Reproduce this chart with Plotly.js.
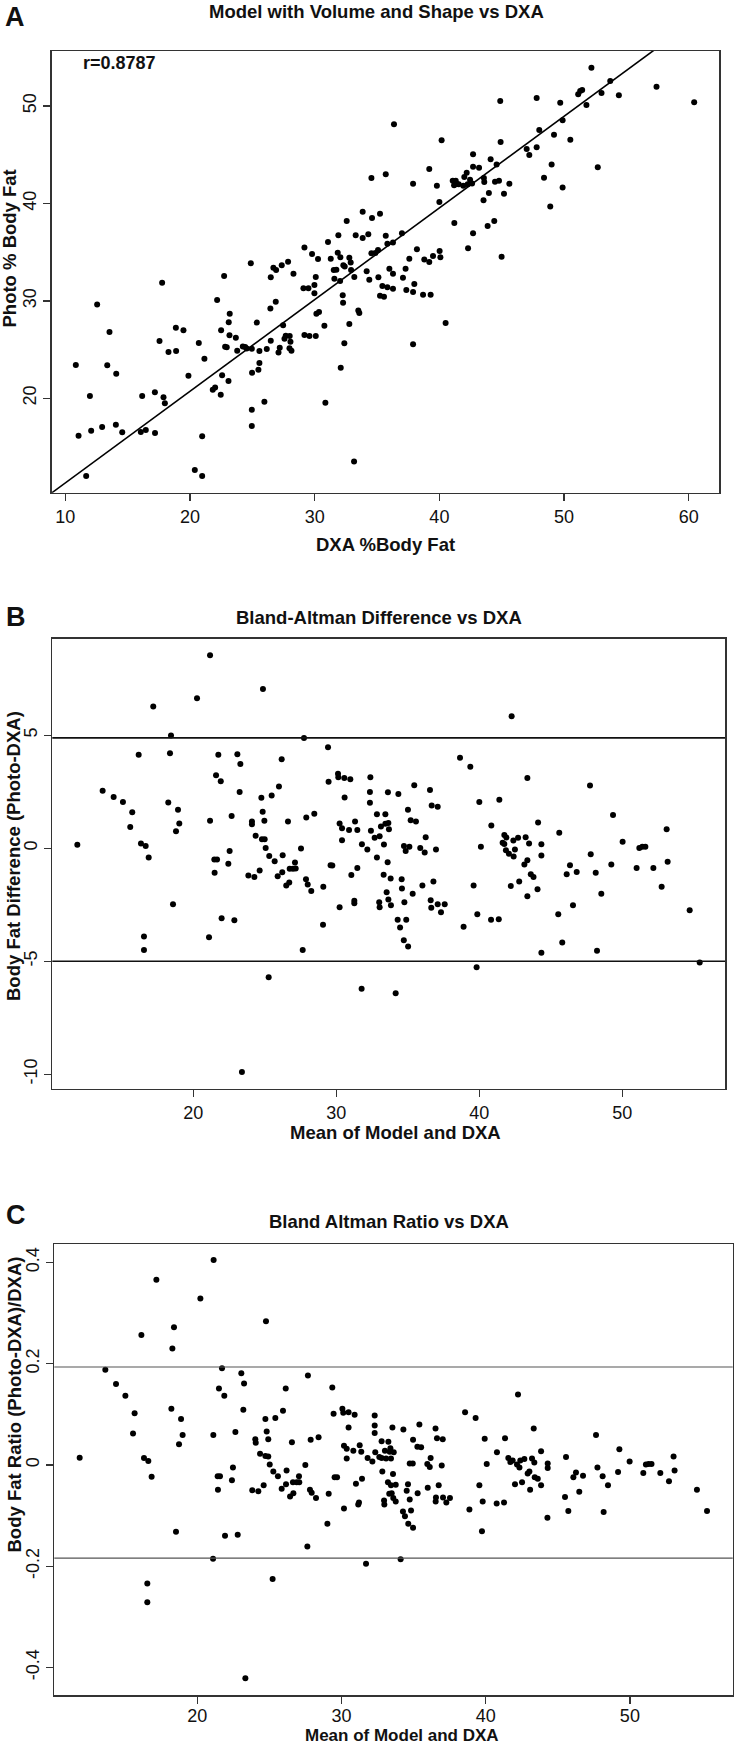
<!DOCTYPE html>
<html>
<head>
<meta charset="utf-8">
<script src="https://cdn.plot.ly/plotly-3.0.1.min.js"></script>
<style>
  html, body { margin: 0; padding: 0; background: #fff; }
  #chart { width: 734px; height: 1746px; }
</style>
</head>
<body>
<div id="chart"></div>
<script>
// ---------------- Panel A: Photo vs DXA ----------------
const dxaA = [10.85,11.07,11.68,11.98,12.08,12.56,12.96,13.37,13.55,14.06,14.09,14.57,16.06,16.17,16.46,17.20,17.19,17.77,17.88,17.99,
  17.56,18.28,18.89,18.87,19.48,19.88,20.39,20.98,20.98,20.71,21.16,21.83,22.02,22.47,22.58,23.09,22.18,22.74,22.82,22.95,
  22.50,23.17,23.11,23.19,23.68,23.79,24.24,24.43,24.55,24.96,24.88,24.98,24.96,24.96,25.36,25.57,25.57,25.49,25.97,26.16,
  26.48,26.48,26.45,26.88,26.69,26.91,27.36,27.87,28.30,27.10,27.20,27.47,27.58,27.68,28.00,27.98,28.14,28.06,
  29.18,29.10,29.50,29.98,29.79,30.27,30.09,29.98,29.18,29.58,30.09,30.14,30.35,30.78,30.86,31.07,31.29,31.90,31.85,31.58,
  31.53,31.74,32.06,32.04,32.30,32.41,32.25,32.28,32.57,32.38,32.09,32.78,32.89,32.92,33.18,32.78,33.16,33.29,33.85,33.85,
  34.30,34.55,34.60,33.50,33.58,34.17,34.38,34.55,34.87,35.08,35.11,
  36.36,35.70,35.24,35.70,35.83,36.28,37.00,35.99,36.28,37.08,37.29,37.59,38.20,38.79,39.19,39.49,40.02,40.08,35.43,35.83,
  36.28,35.24,35.56,37.35,37.89,37.99,38.69,39.30,40.50,37.89,40.18,39.19,37.89,39.80,40.00,41.20,41.07,41.31,41.42,41.18,
  41.55,42.00,42.19,41.92,42.27,42.46,42.62,42.70,42.70,43.18,42.70,42.30,43.57,43.60,43.54,43.87,43.97,44.40,44.11,44.59,
  44.46,44.78,44.88,44.91,44.99,45.18,45.61,47.00,47.21,47.80,47.80,48.01,48.39,48.89,49.00,49.19,49.69,49.88,49.88,50.50,
  51.13,51.29,51.45,51.79,52.19,52.70,53.00,53.70,54.39,57.41,60.43];
const photoA = [23.42,16.16,12.03,20.24,16.68,29.64,17.05,23.38,26.80,17.29,22.53,16.51,16.54,20.24,16.74,16.45,20.61,31.87,20.10,19.48,
  25.88,24.75,24.85,27.25,26.98,22.32,12.64,12.03,16.10,25.68,24.07,20.89,21.10,20.37,22.36,21.78,30.09,32.55,25.30,25.23,
  26.98,26.46,27.80,28.69,26.22,24.89,25.33,25.26,25.10,25.09,33.85,22.63,18.83,17.16,27.77,24.85,23.62,22.94,19.65,25.06,
  25.92,32.42,29.23,29.92,33.41,33.17,33.65,34.02,32.79,24.70,25.20,27.49,26.12,26.43,26.40,25.13,24.89,25.81,
  35.49,31.29,31.29,31.63,34.81,34.30,32.45,30.78,26.50,26.40,26.40,28.69,28.86,27.45,19.55,36.04,34.33,36.73,34.95,32.28,
  33.17,33.20,34.47,32.04,33.65,33.54,30.57,29.82,38.20,25.64,23.14,34.43,33.95,33.17,32.45,27.63,13.50,36.73,36.45,39.16,
  36.83,42.61,38.51,29.02,28.75,33.04,32.18,34.88,34.91,35.22,32.42,
  48.12,42.99,38.95,36.69,35.87,36.00,36.93,33.30,32.79,32.38,33.30,34.33,35.29,34.26,33.99,34.61,35.12,34.47,31.53,31.39,
  31.25,30.53,30.43,31.12,30.91,31.73,30.64,30.64,27.73,25.54,46.48,43.53,42.03,41.82,40.15,37.99,42.34,42.34,42.00,41.86,
  41.96,42.71,43.16,41.82,41.96,42.44,42.06,45.04,43.77,43.67,36.93,35.39,42.61,42.20,40.32,37.68,41.07,38.20,44.53,44.01,
  42.23,42.34,50.51,46.31,34.54,41.00,42.03,45.59,44.97,45.76,50.82,47.54,42.64,39.70,44.01,47.06,50.34,48.53,41.65,46.54,
  51.20,51.54,51.64,50.10,53.93,43.71,51.33,52.57,51.10,51.98,50.38];
const fitIntercept = 1.90;   // fitted line in panel A
const fitSlope = 0.941;
const rLabel = "r=0.8787";

// ---------------- Panel B: Bland-Altman difference ----------------
const meanB = [11.89,13.66,14.43,15.08,15.73,15.59,16.18,16.34,16.67,16.88,16.55,16.55,17.20,18.44,18.37,18.25,18.93,19.02,18.79,18.58,
  20.26,21.17,21.59,21.92,21.75,21.17,21.47,21.66,21.49,21.10,21.98,22.54,22.45,22.68,23.08,23.29,23.24,22.87,23.40,23.85,
  24.27,24.10,24.10,24.36,24.64,24.80,24.99,24.85,24.97,24.76,25.06,24.87,25.27,25.31,25.48,25.69,25.99,26.18,25.90,26.25,
  26.22,26.50,26.71,26.62,26.74,26.97,27.16,27.11,27.53,27.74,27.65,27.88,28.00,28.25,27.90,28.46,29.09,29.07,29.42,29.46,
  29.60,29.72,30.12,30.14,30.56,30.98,30.58,30.23,30.40,30.40,30.89,31.31,31.47,31.05,31.47,30.23,31.26,31.26,31.77,31.79,
  32.17,32.38,32.35,32.35,32.84,33.43,32.42,32.68,33.03,33.12,32.84,33.33,33.43,33.64,33.61,33.59,33.31,33.52,33.64,33.00,
  33.03,
  34.34,35.45,36.55,36.67,37.09,35.01,35.20,35.57,33.68,36.25,34.73,35.11,34.85,35.87,36.18,36.97,33.80,34.57,33.82,34.59,
  34.76,35.34,36.02,36.79,36.60,36.64,37.09,37.58,37.32,34.29,34.89,34.46,34.72,35.02,34.15,38.65,39.37,38.90,40.00,40.11,
  39.60,39.86,39.81,40.84,41.40,40.82,41.36,41.75,41.89,41.63,41.75,41.86,42.07,42.40,42.38,42.71,42.49,42.26,43.36,43.24,
  43.48,42.20,42.79,43.15,43.36,43.60,43.79,44.11,44.07,43.36,44.34,44.34,44.34,45.59,46.11,46.34,46.81,45.52,45.80,46.55,
  47.74,47.79,48.14,48.23,48.53,49.35,49.23,50.02,51.00,51.19,51.40,51.61,52.17,52.75,53.10,53.17,54.71,55.41];
const diffB = [0.15,2.54,2.27,2.04,1.59,0.94,4.13,0.21,0.10,-0.41,-3.91,-4.50,6.27,4.99,4.20,2.02,1.70,1.09,0.75,-2.48,
  6.64,8.54,3.23,2.96,4.13,1.22,-0.50,-0.50,-1.09,-3.94,-3.10,-0.12,-0.69,1.43,4.16,3.73,2.49,-3.19,-9.90,-1.21,
  -1.27,1.18,1.06,0.55,-0.99,0.40,0.40,1.61,1.22,2.23,0.01,7.04,-5.71,-0.34,2.33,-0.58,2.73,3.94,-1.24,-0.31,
  -1.06,-1.65,-1.52,1.18,-0.91,-0.91,-0.90,-0.63,-0.01,4.88,-4.50,-1.37,-1.61,-1.89,1.36,1.52,-1.70,-3.39,4.47,2.94,
  -0.75,-0.77,3.29,3.14,3.11,3.05,2.24,1.09,0.88,0.35,0.81,1.18,0.81,-1.19,-0.87,-2.61,-2.32,-2.43,-6.22,0.18,
  -0.06,3.14,2.49,2.01,1.50,1.50,0.77,0.46,0.53,0.96,-0.41,0.16,1.08,1.12,2.48,-0.62,-1.17,-1.95,-2.27,-2.39,
  -2.61,
  2.40,2.79,2.58,1.89,1.83,1.70,1.24,1.18,0.84,0.49,0.10,0.07,-0.12,0.01,-0.19,-0.06,-1.34,-1.37,-2.52,-1.78,
  -2.39,-2.02,-1.65,-1.47,-2.30,-2.63,-2.48,-2.48,-2.83,-3.17,-3.17,-3.51,-4.07,-4.35,-6.42,4.00,3.61,-3.47,2.05,0.06,
  -1.65,-2.92,-5.27,1.00,2.14,-3.16,-3.14,0.58,0.47,0.24,0.19,-0.09,-0.25,-0.37,0.34,0.46,-0.06,5.84,3.11,0.49,
  0.21,-1.67,-1.47,-0.72,-0.53,-1.15,-1.27,1.14,-1.81,-2.12,0.18,-0.32,-4.63,0.68,-1.15,-0.75,-1.05,-2.92,-4.17,-2.52,
  2.77,-0.27,-1.09,-4.54,-2.01,1.47,-0.72,0.29,-0.87,0.01,0.07,0.06,-0.87,-1.70,0.84,-0.60,-2.74,-5.06];
const limitsB = [4.88, -5.00];

// ---------------- Panel C: Bland-Altman ratio ----------------
const meanC = [11.84,13.62,14.36,15.01,15.65,15.54,16.12,16.30,16.60,16.83,16.53,16.53,17.16,18.38,18.27,18.20,18.87,18.98,18.73,18.52,
  20.21,21.13,21.71,21.50,21.87,21.11,21.41,21.57,21.43,21.92,21.09,23.05,23.24,23.19,22.64,22.47,22.40,22.80,23.33,23.81,
  24.23,24.02,24.05,24.35,24.60,24.72,24.92,24.72,24.81,24.92,24.76,25.22,25.02,25.27,25.41,25.59,25.94,26.13,25.85,26.19,
  26.15,26.43,26.66,26.56,26.63,26.89,27.07,27.05,27.49,27.67,27.63,27.81,27.93,28.23,27.86,28.41,29.11,29.02,29.36,29.45,
  29.52,29.69,30.06,30.12,30.49,30.91,30.17,30.36,30.49,30.36,30.82,30.17,31.00,31.42,31.21,31.16,31.70,31.26,31.37,31.81,
  32.14,32.30,32.30,32.30,32.34,32.78,32.62,32.78,32.83,33.01,33.25,33.22,32.95,32.97,33.31,
  33.39,33.34,33.62,33.09,33.43,33.53,34.29,33.57,33.43,33.76,33.48,33.59,33.76,34.61,34.52,34.73,34.26,34.40,34.63,34.96,
  34.10,34.82,34.96,35.40,35.26,35.52,34.73,34.94,35.28,35.98,36.18,35.95,36.12,36.52,36.62,37.02,36.74,36.55,36.53,36.95,
  37.04,37.27,37.52,38.57,39.30,39.93,40.07,39.56,39.79,39.74,38.87,40.78,41.34,40.76,41.27,42.24,41.57,41.71,41.87,42.17,
  42.34,42.40,42.68,42.03,42.52,42.91,43.03,43.08,43.33,43.21,43.37,43.40,43.61,43.84,43.84,44.30,44.30,44.28,45.57,45.50,
  45.73,46.08,46.26,46.49,46.75,47.65,47.75,48.11,48.18,48.48,49.27,49.18,49.98,50.93,51.11,51.30,51.50,52.11,52.71,53.03,
  53.10,54.65,55.35];
const ratioC = [0.0145,0.188,0.160,0.137,0.102,0.062,0.257,0.014,0.008,-0.023,-0.234,-0.271,0.366,0.272,0.230,0.111,0.091,0.059,0.041,-0.132,
  0.329,0.405,0.191,0.151,0.137,0.059,-0.022,-0.022,-0.049,-0.140,-0.185,0.181,0.161,0.109,0.065,-0.005,-0.030,-0.138,-0.421,-0.050,
  -0.052,0.051,0.044,0.022,-0.040,0.018,0.017,0.091,0.066,0.051,0.284,-0.225,0.001,-0.013,0.093,-0.022,0.107,0.151,-0.047,-0.011,
  -0.038,-0.062,-0.056,0.045,-0.034,-0.034,-0.034,-0.022,0.000,0.177,-0.161,-0.049,-0.055,-0.065,0.050,0.055,-0.057,-0.116,0.153,0.101,
  -0.024,-0.024,0.111,0.103,0.104,0.099,0.038,0.032,0.074,0.013,0.028,-0.086,-0.037,-0.027,-0.074,-0.078,-0.195,0.039,0.026,0.014,
  0.007,0.098,0.078,0.063,0.025,0.047,0.016,0.014,-0.013,0.028,0.046,-0.034,-0.070,-0.078,-0.057,
  0.033,0.026,0.025,0.013,0.013,0.074,0.070,-0.018,-0.040,-0.039,-0.056,-0.065,-0.072,-0.038,-0.051,-0.068,-0.092,-0.101,-0.116,-0.124,
  -0.186,-0.090,0.050,0.080,0.036,0.035,0.003,0.003,-0.056,-0.045,0.014,0.002,-0.004,0.072,0.053,0.051,-0.040,-0.064,-0.072,-0.001,
  -0.064,-0.074,-0.065,0.104,0.093,0.052,0.002,-0.040,-0.072,-0.131,-0.088,0.025,0.053,-0.076,-0.074,0.139,0.014,0.006,0.009,0.001,
  -0.005,0.009,0.012,-0.038,-0.034,-0.017,-0.013,-0.049,0.072,0.013,0.005,-0.024,-0.027,0.027,-0.040,0.003,-0.006,-0.104,0.016,-0.063,
  -0.091,-0.024,-0.015,-0.053,-0.021,0.059,-0.005,-0.022,-0.093,-0.040,0.031,-0.014,0.007,-0.016,0.001,0.002,0.002,-0.016,-0.032,0.017,
  -0.011,-0.049,-0.091];
const limitsC = [0.1936, -0.184];

// tick labels
const xTicksA = [10, 20, 30, 40, 50, 60];
const yTicksA = [20, 30, 40, 50];
const xTicksBC = [20, 30, 40, 50];
const yTicksB = [-10, -5, 0, 5];
const yTickTextB = ["-10", "-5", "0", "5"];
const yTicksC = [-0.4, -0.2, 0, 0.2, 0.4];
const yTickTextC = ["-0.4", "-0.2", "0", "0.2", "0.4"];

// ---------------- figure ----------------
const W = 734, H = 1746;
const FONT = "Liberation Sans, Arial, Helvetica, sans-serif";
const px = v => v / W;
const py = v => 1 - v / H;

const xRangeA = [8.90, 62.42];
const lineX = [xRangeA[0], xRangeA[1]];
const lineY = lineX.map(v => fitIntercept + fitSlope * v);

const mk = {color: "#000", size: 6};
const traces = [
  {x: dxaA, y: photoA, type: "scatter", mode: "markers", marker: mk, xaxis: "x", yaxis: "y", hoverinfo: "skip"},
  {x: lineX, y: lineY, type: "scatter", mode: "lines", line: {color: "#000", width: 1.6}, xaxis: "x", yaxis: "y", hoverinfo: "skip"},
  {x: meanB, y: diffB, type: "scatter", mode: "markers", marker: mk, xaxis: "x2", yaxis: "y2", hoverinfo: "skip"},
  {x: meanC, y: ratioC, type: "scatter", mode: "markers", marker: mk, xaxis: "x3", yaxis: "y3", hoverinfo: "skip"}
];

function axis(extra) {
  return Object.assign({
    showline: true, mirror: true, linecolor: "#333", linewidth: 1.5,
    ticks: "outside", ticklen: 7, tickwidth: 1.3, tickcolor: "#333",
    showgrid: false, zeroline: false,
    tickfont: {family: FONT, size: 18, color: "#111"},
    tickmode: "array", fixedrange: true
  }, extra);
}

const layout = {
  width: W, height: H,
  margin: {l: 0, r: 0, t: 0, b: 0},
  paper_bgcolor: "#fff", plot_bgcolor: "#fff",
  showlegend: false,
  font: {family: FONT, color: "#111"},
  xaxis: axis({domain: [px(51.5), px(719)], range: xRangeA, tickvals: xTicksA, anchor: "y"}),
  yaxis: axis({domain: [py(492.7), py(51)], range: [10.31, 55.65], tickvals: yTicksA, tickangle: -90, anchor: "x"}),
  xaxis2: axis({domain: [px(52.3), px(725)], range: [10.14, 57.18], tickvals: xTicksBC, anchor: "y2"}),
  yaxis2: axis({domain: [py(1088.7), py(638.7)], range: [-10.64, 9.27], tickvals: yTicksB, ticktext: yTickTextB, tickangle: -90, anchor: "x2"}),
  xaxis3: axis({domain: [px(54.3), px(732.7)], range: [10.08, 57.13], tickvals: xTicksBC, anchor: "y3", ticklabelstandoff: -3}),
  yaxis3: axis({domain: [py(1695), py(1244)], range: [-0.4543, 0.4365], tickvals: yTicksC, ticktext: yTickTextC, tickangle: -90, anchor: "x3"}),
  shapes: [
    ...limitsB.map(v => ({type: "line", xref: "x2 domain", yref: "y2", x0: 0, x1: 1, y0: v, y1: v, line: {color: "#111", width: 1.6}})),
    ...limitsC.map(v => ({type: "line", xref: "x3 domain", yref: "y3", x0: 0, x1: 1, y0: v, y1: v, line: {color: "#555", width: 1.2}}))
  ],
  annotations: []
};

function ann(text, x, y, size, opts) {
  return Object.assign({
    text: text, xref: "paper", yref: "paper", x: px(x), y: py(y),
    xanchor: "center", yanchor: "middle", showarrow: false,
    font: {family: FONT, size: size, color: "#111"}
  }, opts || {});
}
const B = t => "<b>" + t + "</b>";
layout.annotations.push(
  ann(B("A"), 3, 17, 27, {xanchor: "left"}),
  ann(B("Model with Volume and Shape vs DXA"), 376, 12, 18.5),
  ann(B(rLabel), 81, 63.5, 18, {xanchor: "left"}),
  ann(B("DXA %Body Fat"), 385, 544, 18.5),
  ann(B("Photo % Body Fat"), 9.5, 249, 18.5, {textangle: -90}),

  ann(B("B"), 4, 617, 27, {xanchor: "left"}),
  ann(B("Bland-Altman Difference vs DXA"), 379, 617, 18.5),
  ann(B("Body Fat Difference (Photo-DXA)"), 13, 856, 18.5, {textangle: -90}),
  ann(B("Mean of Model and DXA"), 395, 1132, 18.5),

  ann(B("C"), 4, 1215, 27, {xanchor: "left"}),
  ann(B("Bland Altman Ratio vs DXA"), 389, 1221, 18.5),
  ann(B("Body Fat Ratio (Photo-DXA)/DXA)"), 13.5, 1405, 18.5, {textangle: -90}),
  ann(B("Mean of Model and DXA"), 402, 1735.5, 17)
);

Plotly.newPlot("chart", traces, layout, {staticPlot: true, displayModeBar: false});
</script>
</body>
</html>
